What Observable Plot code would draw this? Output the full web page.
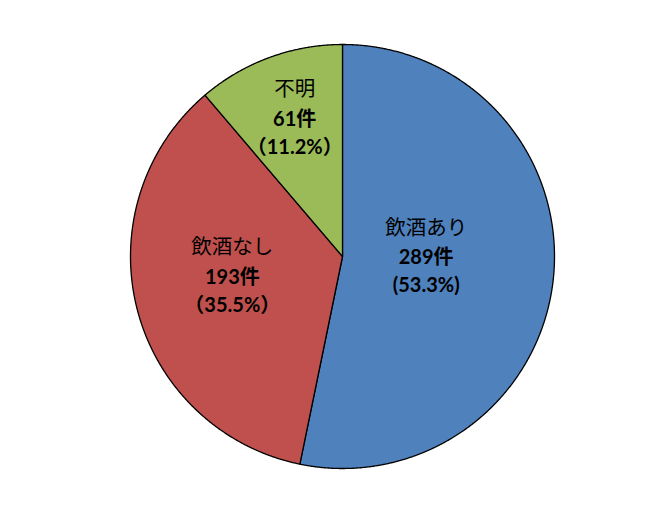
<!DOCTYPE html>
<html>
<head>
<meta charset="utf-8">
<script src="https://cdn.jsdelivr.net/npm/d3@7"></script>
<script src="https://cdn.jsdelivr.net/npm/@observablehq/plot@0.6"></script>
<style>
  html, body { margin: 0; padding: 0; background: #ffffff; }
  #chart svg { display: block; }
</style>
</head>
<body>
<div id="chart"></div>
<script>
// ---- data ----
const categories = ["飲酒あり", "飲酒なし", "不明"];
const counts = [289, 193, 61];
const countLabels = ["289件", "193件", "61件"];
const percentLabels = ["(53.3%)", "（35.5%）", "（11.2%）"];

// ---- derived geometry (unit circle, angles clockwise from 12 o'clock) ----
const total = d3.sum(counts);
const polyPoints = [];
const labelRows = [];
let start = 0;
categories.forEach((cat, i) => {
  const a = (counts[i] / total) * 2 * Math.PI;
  const end = start + a;
  polyPoints.push({cat, x: 0, y: 0});
  const steps = Math.max(2, Math.ceil(a / (Math.PI / 720)));
  for (let k = 0; k <= steps; k++) {
    const t = start + (a * k) / steps;
    polyPoints.push({cat, x: Math.sin(t), y: Math.cos(t)});
  }
  polyPoints.push({cat, x: 0, y: 0});
  // area centroid of the sector
  const mid = start + a / 2;
  const d = (4 * Math.sin(a / 2)) / (3 * a);
  labelRows.push({
    cat,
    x: d * Math.sin(mid),
    y: d * Math.cos(mid),
    count: countLabels[i],
    pct: percentLabels[i]
  });
  start = end;
});

const chart = Plot.plot({
  width: 645,
  height: 528,
  marginLeft: 130,
  marginRight: 91,
  marginTop: 44,
  marginBottom: 60,
  style: {background: "#ffffff"},
  x: {domain: [-1, 1], axis: null},
  y: {domain: [-1, 1], axis: null},
  color: {domain: categories, range: ["#4F81BD", "#C0504D", "#9BBB59"]},
  marks: [
    Plot.line(polyPoints, {
      x: "x", y: "y", z: "cat", fill: "cat",
      stroke: "#000000", strokeWidth: 1.3, strokeLinejoin: "round", curve: "linear"
    }),
    Plot.text(labelRows, {
      x: "x", y: "y", text: "cat", dy: -37,
      fontSize: 20.5, fill: "#000000",
      fontFamily: "'Noto Sans CJK JP', sans-serif", fontWeight: 400
    }),
    Plot.text(labelRows, {
      x: "x", y: "y", text: "count", dy: -7,
      fontSize: 20, fill: "#000000",
      fontFamily: "Lato, 'Noto Sans CJK JP', sans-serif", fontWeight: 700
    }),
    Plot.text(labelRows, {
      x: "x", y: "y", text: "pct", dy: 21,
      fontSize: 20, fill: "#000000",
      fontFamily: "Lato, 'Noto Sans CJK JP', sans-serif", fontWeight: 700
    })
  ]
});
document.getElementById("chart").appendChild(chart);
</script>
</body>
</html>
